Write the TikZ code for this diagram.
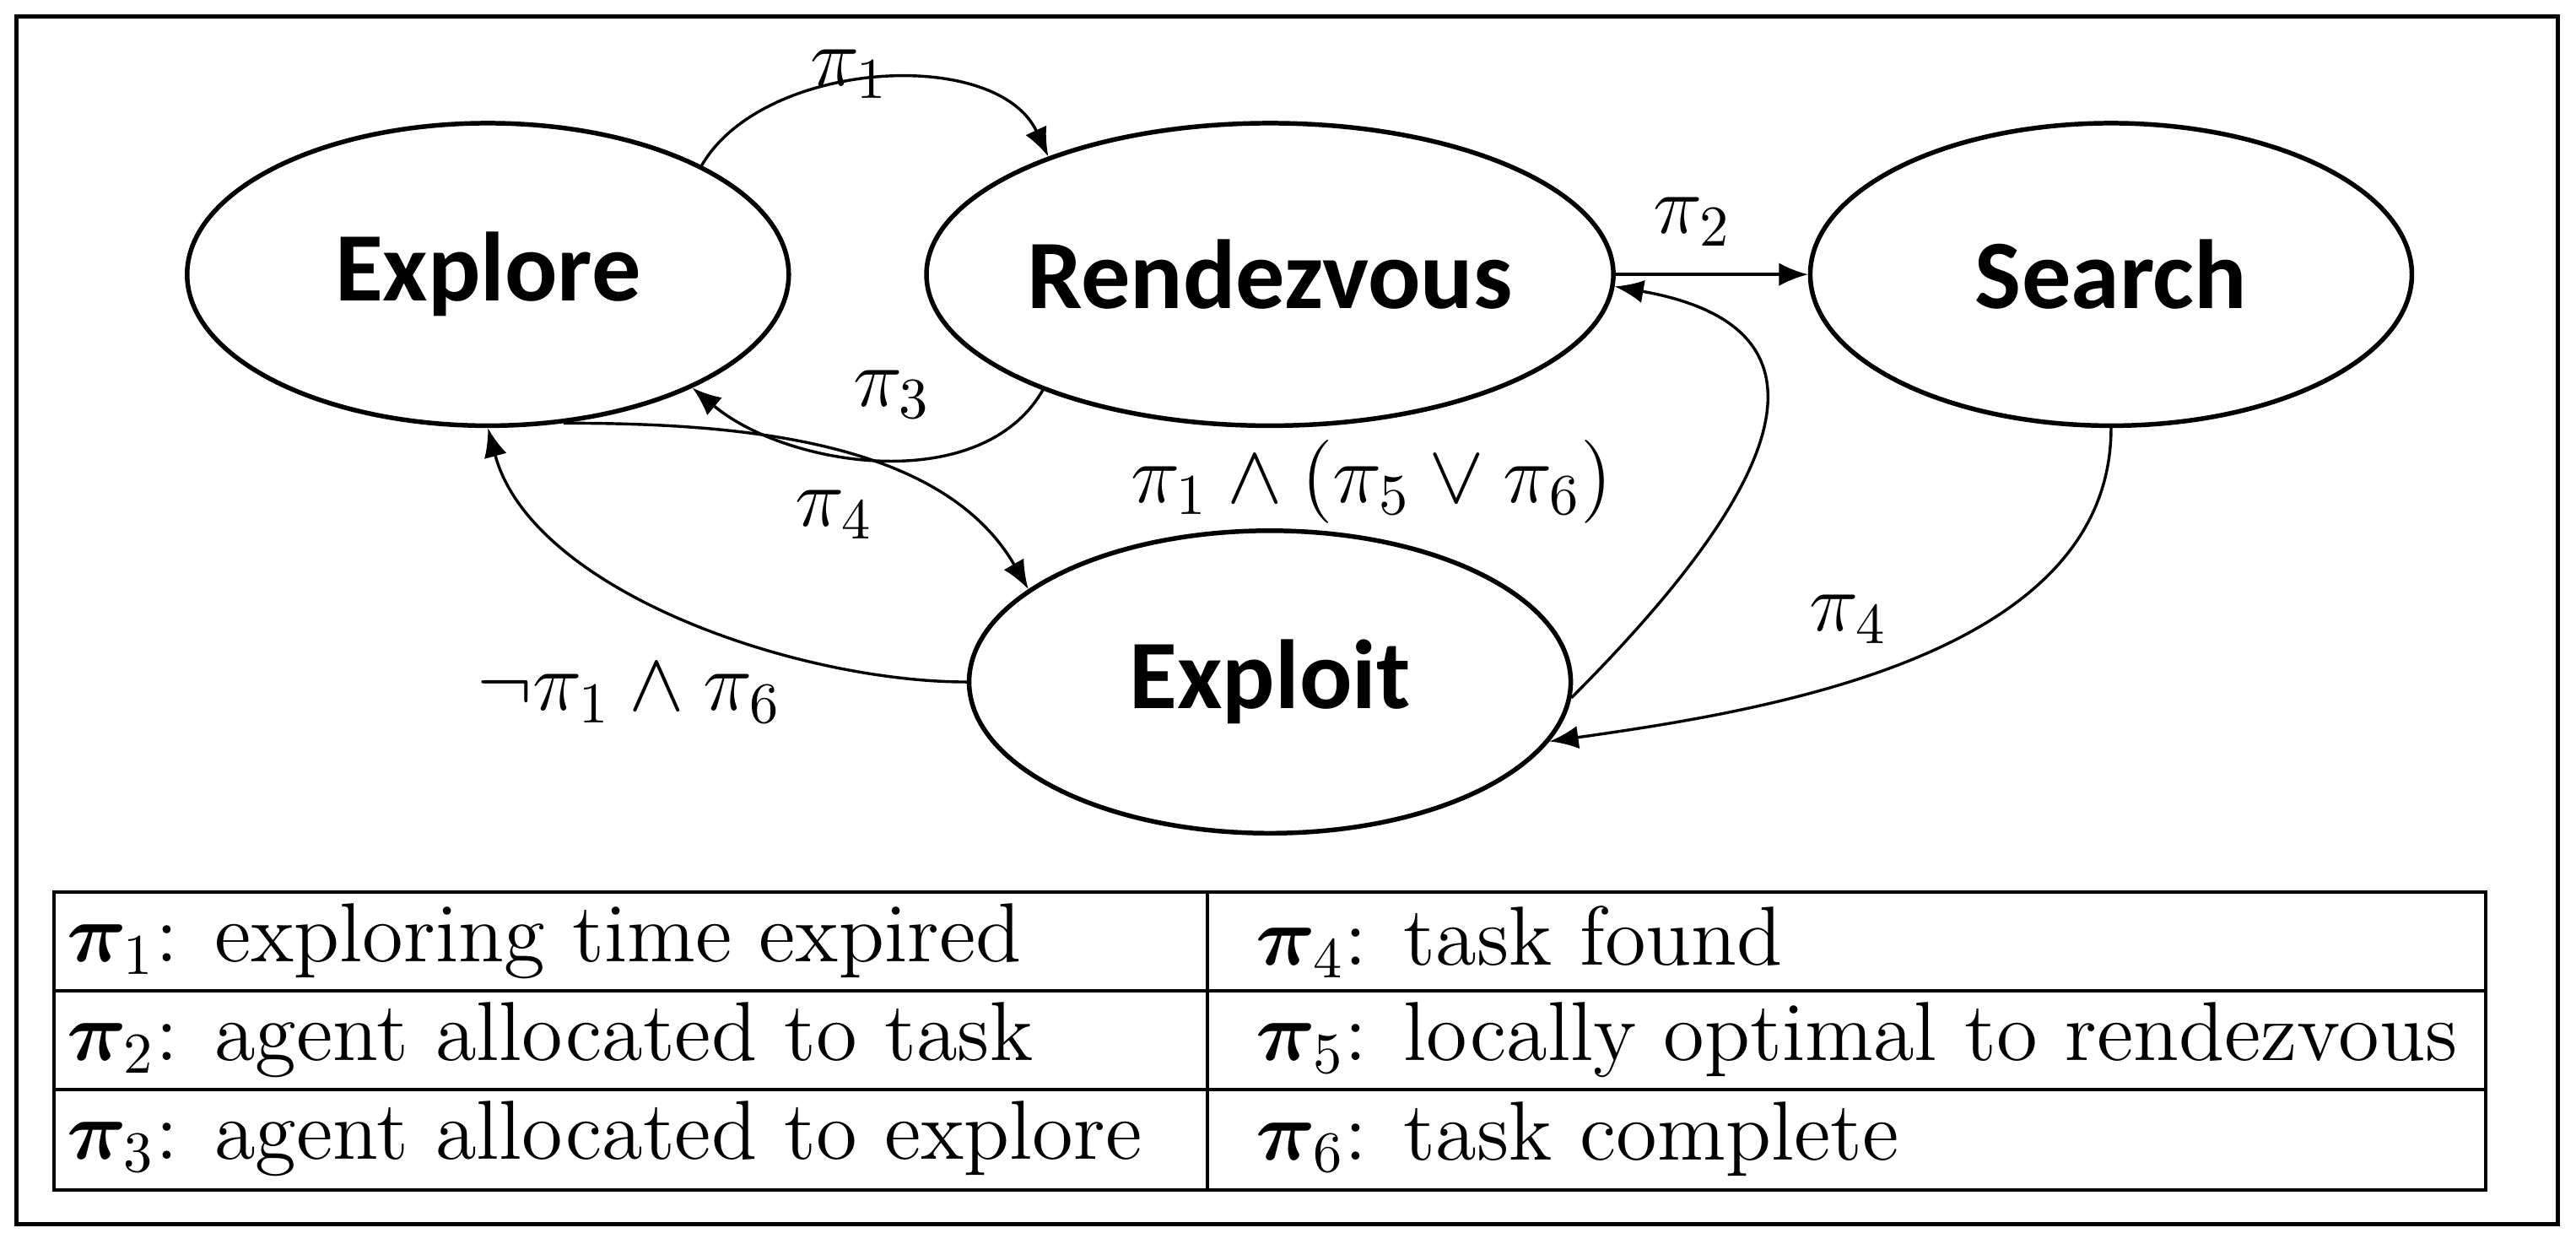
\documentclass[tikz,border=0pt]{standalone}
\usepackage{amsmath,amssymb,bm}
\usepackage{fontspec}
\newfontfamily\lab{Carlito}
\usetikzlibrary{shapes.geometric,arrows.meta}
\begin{document}
\begin{tikzpicture}[x=0.01cm,y=-0.01cm,
 st/.style={ellipse,draw,line width=0.8pt,minimum width=3.66cm,minimum height=1.84cm,inner sep=0pt,font=\lab\fontsize{17}{20}\selectfont\bfseries},
 ar/.style={-{Latex[length=5pt,width=4pt]},line width=0.5pt},
 lb/.style={font=\fontsize{14}{16}\selectfont},
 tt/.style={anchor=west,font=\fontsize{14.5}{16}\selectfont,inner sep=0pt}]
\useasboundingbox (0,0) rectangle (1568,757);
\draw[line width=0.8pt] (10,10) rectangle (1557,745);
\node[st] (ex) at (297,167) {Explore};
\node[st] (rv) at (773,167) {Rendezvous};
\node[st] (se) at (1285,167) {Search};
\node[st] (xp) at (773,415) {Exploit};
\draw[ar] (ex.27) to[out=60,in=115,looseness=0.9] (rv.152);
\draw[ar] (rv.207) to[out=-120,in=-40,looseness=0.9] (ex.331);
\draw[ar] (rv.east) -- (se.west);
\draw[ar] (ex.297) to[out=0,in=120,looseness=0.9] (xp.159);
\draw[ar] (xp.west) to[out=180,in=-75,looseness=0.8] (ex.south);
\draw[ar] (xp.357) to[out=45,in=-10,looseness=1.6] (rv.358);
\draw[ar] (se.south) to[out=-90,in=8,looseness=0.9] (xp.348);
\node[lb] (l1) at (517,45) {$\pi_1$};
\node[lb] (l2) at (1030,135) {$\pi_2$};
\node[lb] (l3) at (543,240) {$\pi_3$};
\node[lb] (l4) at (508,313) {$\pi_4$};
\node[lb] (l5) at (835,293) {$\pi_1\wedge(\pi_5\vee\pi_6)$};
\node[lb] (l6) at (383,422) {$\neg\pi_1\wedge\pi_6$};
\node[lb] (l7) at (1125,377) {$\pi_4$};
\draw[line width=0.6pt] (33,543) rectangle (1513,724);
\draw[line width=0.6pt] (33,603) -- (1513,603) (33,663) -- (1513,663) (735,543) -- (735,724);
\node[tt] (t1) at (40,573) {$\bm{\pi}_1$: exploring time expired};
\node[tt] (t2) at (40,633) {$\bm{\pi}_2$: agent allocated to task};
\node[tt] (t3) at (40,693) {$\bm{\pi}_3$: agent allocated to explore};
\node[tt] (t4) at (764,573) {$\bm{\pi}_4$: task found};
\node[tt] (t5) at (764,633) {$\bm{\pi}_5$: locally optimal to rendezvous};
\node[tt] (t6) at (764,693) {$\bm{\pi}_6$: task complete};
\end{tikzpicture}
\end{document}
